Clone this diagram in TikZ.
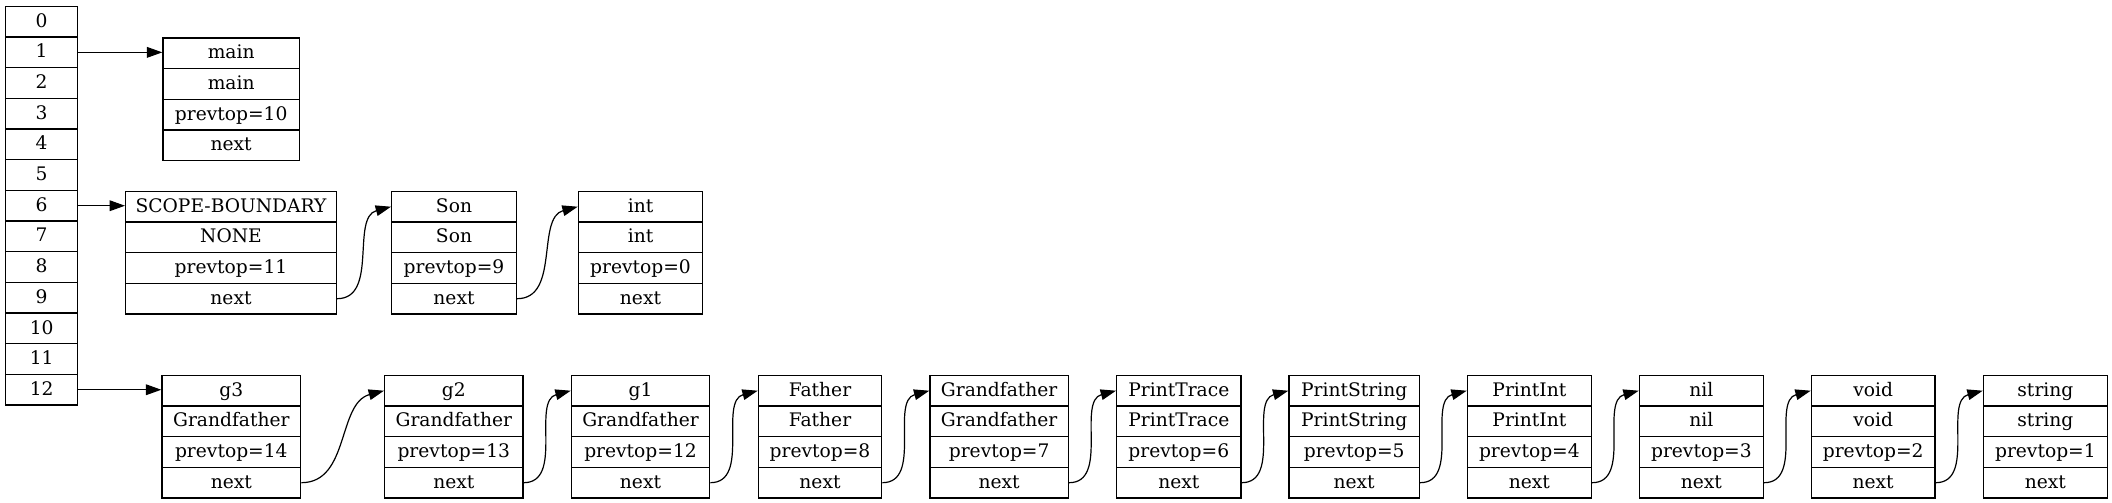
\documentclass[tikz,border=0pt]{standalone}
\usepackage{fontspec}
\setmainfont{DejaVu Serif}
\usepackage{tikz}
\usetikzlibrary{arrows.meta}
\tikzset{>={Triangle[length=11.5pt,width=8pt]}}
\tikzset{field/.style={draw,line width=1pt,inner sep=0pt,minimum height=23pt,
    text height=11.4pt,text depth=3pt,font=\fontsize{14pt}{16pt}\selectfont},
  link/.style={->,line width=0.9pt}}

\begin{document}
\begin{tikzpicture}[x=0.75pt,y=-0.75pt]
	\useasboundingbox (0,0) rectangle (2112,503);
	% the table of scopes
	\foreach \i in {0,...,12}
	   \node[field,minimum width=54pt,anchor=north west] (tab\i) at (5,5.7+30.67*\i) {\i};
	% the records
	\foreach \nm/\xx/\yy/\ww/\ta/\tb/\pt in {main/162.3/37.3/136.4/main/main/10,
		scope/125/190.7/210.7/SCOPE-BOUNDARY/NONE/11,
		son/391/190.7/124.7/Son/Son/9,
		int/577.7/190.7/124.3/int/int/0,
		g3/161.3/374.7/138.7/g3/Grandfather/14,
		g2/384/374.7/138.3/g2/Grandfather/13,
		g1/570.7/374.7/138.3/g1/Grandfather/12,
		father/757.7/374.7/123.3/Father/Father/8,
		grandfather/929.3/374.7/138.4/Grandfather/Grandfather/7,
		printtrace/1116/374.7/124.3/PrintTrace/PrintTrace/6,
		printstring/1288.3/374.7/130.4/PrintString/PrintString/5,
		printint/1466.7/374.7/124/PrintInt/PrintInt/4,
		nil/1638.7/374.7/124/nil/nil/3,
		void/1810.7/374.7/123.6/void/void/2,
		string/1982.7/374.7/124/string/string/1}
	   {\begin{scope}[every node/.style={field,minimum width=\ww*0.75pt,anchor=north west}]
		\node (\nm-1) at (\xx,\yy) {\ta};
		\node (\nm-2) at (\xx,\yy+30.67) {\tb};
		\node (\nm-3) at (\xx,\yy+61.33) {prevtop=\pt};
		\node (\nm-4) at (\xx,\yy+92) {next};
	\end{scope}}
	\draw[link] (tab1.east) -- (tab1.east -| main-1.west);
	\draw[link] (tab6.east) -- (tab6.east -| scope-1.west);
	\draw[link] (tab12.east) -- (tab12.east -| g3-1.west);
	\foreach \a/\b in {scope/son,son/int,g3/g2,g2/g1,g1/father,father/grandfather,
		grandfather/printtrace,printtrace/printstring,printstring/printint,
		printint/nil,nil/void,void/string}
	   \draw[link] (\a-4.east) to[out=0,in=195] (\b-1.west);
  \end{tikzpicture}
\end{document}
